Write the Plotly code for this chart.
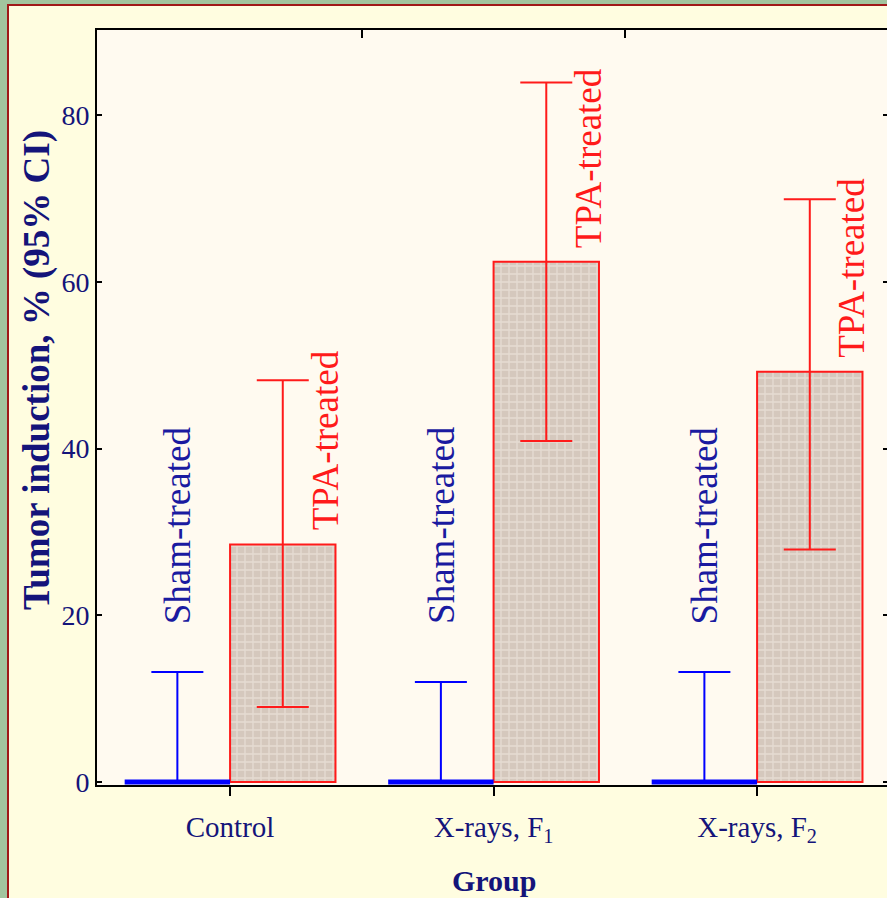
import plotly.graph_objects as go

# ---- data ----
groups = ["Control", "X-rays, F<sub>1</sub>", "X-rays, F<sub>2</sub>"]
sham_values = [0, 0, 0]
sham_upper = [13.2, 12.0, 13.2]
tpa_values = [28.5, 62.4, 49.2]
tpa_upper = [48.2, 83.9, 69.9]
tpa_lower = [9.0, 40.9, 27.9]
y_ticks = [0, 20, 40, 60, 80]
sham_label = "Sham-treated"
tpa_label = "TPA-treated"
y_title = "Tumor induction, % (95% CI)"
x_title = "Group"

# ---- layout constants ----
W, H = 887, 898
ML, MR, MT, MB = 97, 0, 30, 113
PW, PH = W - ML - MR, H - MT - MB
NAVY = "#14147a"
BLUE = "#0000ff"
RED = "#ff1a1a"
SERIF = "Liberation Serif, Times New Roman, serif"
XR = [-0.505, 2.493]
YR = [-0.36, 90.2]
BW = 0.4
OFF = 0.2

gx = list(range(len(groups)))
sham_x = [g - OFF for g in gx]
tpa_x = [g + OFF for g in gx]

fig = go.Figure()

# sham bars (zero height) with error bars
fig.add_trace(go.Bar(
    x=sham_x, y=sham_values, width=BW,
    marker=dict(color="rgba(0,0,0,0)", line=dict(width=0)),
    error_y=dict(type="data", symmetric=False,
                 array=[u - v for u, v in zip(sham_upper, sham_values)],
                 arrayminus=[0] * len(sham_values),
                 color=BLUE, thickness=2, width=26),
    showlegend=False, hoverinfo="skip"))

# blue baseline for zero-height sham bars
for xs, v in zip(sham_x, sham_values):
    fig.add_trace(go.Scatter(
        x=[xs - BW / 2, xs + BW / 2], y=[v, v], mode="lines",
        line=dict(color=BLUE, width=5), showlegend=False, hoverinfo="skip"))

# TPA bars
fig.add_trace(go.Bar(
    x=tpa_x, y=tpa_values, width=BW,
    marker=dict(color="#d8ccc2",
                line=dict(color=RED, width=2),
                pattern=dict(shape="+", fgcolor="#f6f0e8", bgcolor="#d5c8bd",
                             size=8, solidity=0.3)),
    error_y=dict(type="data", symmetric=False,
                 array=[u - v for u, v in zip(tpa_upper, tpa_values)],
                 arrayminus=[v - l for v, l in zip(tpa_values, tpa_lower)],
                 color=RED, thickness=2, width=26),
    showlegend=False, hoverinfo="skip"))

# invisible traces for secondary axes
fig.add_trace(go.Scatter(x=[XR[0]], y=[YR[0]], xaxis="x2", yaxis="y",
                         mode="markers", marker=dict(opacity=0),
                         showlegend=False, hoverinfo="skip"))
fig.add_trace(go.Scatter(x=[XR[0]], y=[YR[0]], xaxis="x", yaxis="y2",
                         mode="markers", marker=dict(opacity=0),
                         showlegend=False, hoverinfo="skip"))

annotations = []
for xs, v in zip(sham_x, sham_values):
    annotations.append(dict(x=xs, y=v, xref="x", yref="y", text=sham_label,
                            textangle=-90, showarrow=False, xanchor="center",
                            yanchor="bottom", yshift=156,
                            font=dict(family=SERIF, size=37, color="#1a1aa0")))
for g, v in zip(gx, tpa_values):
    annotations.append(dict(x=g + 0.36, y=v, xref="x", yref="y", text=tpa_label,
                            textangle=-90, showarrow=False, xanchor="center",
                            yanchor="bottom", yshift=12,
                            font=dict(family=SERIF, size=37, color=RED)))
annotations.append(dict(x=(37 - ML) / PW, y=(H - MB - 370) / PH, xref="paper", yref="paper",
                        text="<b>" + y_title + "</b>", textangle=-90, showarrow=False,
                        xanchor="center", yanchor="middle",
                        font=dict(family=SERIF, size=37, color=NAVY)))
annotations.append(dict(x=(494 - ML) / PW, y=(H - MB - 880) / PH, xref="paper", yref="paper",
                        text="<b>" + x_title + "</b>", showarrow=False,
                        xanchor="center", yanchor="middle",
                        font=dict(family=SERIF, size=30, color=NAVY)))

shapes = [
    dict(type="rect", xref="paper", yref="paper", layer="below",
         x0=(8 - ML) / PW, x1=1.2, y0=-0.3, y1=(H - MB - 5) / PH,
         fillcolor="#fffde0", line=dict(color="#a01818", width=2)),
    dict(type="rect", xref="paper", yref="paper", layer="below",
         x0=0, x1=1, y0=0, y1=1,
         fillcolor="#fffaf0", line=dict(width=0)),
]

fig.update_layout(
    width=W, height=H,
    margin=dict(l=ML, r=MR, t=MT, b=MB, autoexpand=False),
    paper_bgcolor="#a2c49e",
    plot_bgcolor="#fffaf0",
    barmode="overlay",
    annotations=annotations,
    shapes=shapes,
    xaxis=dict(range=XR, tickmode="array", tickvals=gx, ticktext=groups,
               ticks="outside", ticklen=9, tickwidth=2, tickcolor="black",
               ticklabelstandoff=6,
               showline=True, linecolor="black", linewidth=2,
               showgrid=False, zeroline=False, automargin=False,
               tickfont=dict(family=SERIF, size=29, color=NAVY)),
    xaxis2=dict(range=XR, overlaying="x", side="top", anchor="y",
                tickmode="array", tickvals=[0.5, 1.5], ticks="inside",
                ticklen=8, tickwidth=2, tickcolor="black",
                showticklabels=False, showline=True, linecolor="black",
                linewidth=2, showgrid=False, zeroline=False),
    yaxis=dict(range=YR, tickmode="array", tickvals=y_ticks,
               ticks="inside", ticklen=5, tickwidth=2, tickcolor="black",
               showline=True, linecolor="black", linewidth=2,
               showgrid=False, zeroline=False, automargin=False,
               tickfont=dict(family=SERIF, size=28, color=NAVY)),
    yaxis2=dict(range=YR, overlaying="y", side="right", anchor="x",
                tickmode="array", tickvals=y_ticks, ticks="inside",
                ticklen=4, tickwidth=2, tickcolor="black",
                showticklabels=False, showline=False,
                showgrid=False, zeroline=False),
)

fig.write_html("out.html", config={"displayModeBar": False},
               post_script="document.body.style.margin='0';")
